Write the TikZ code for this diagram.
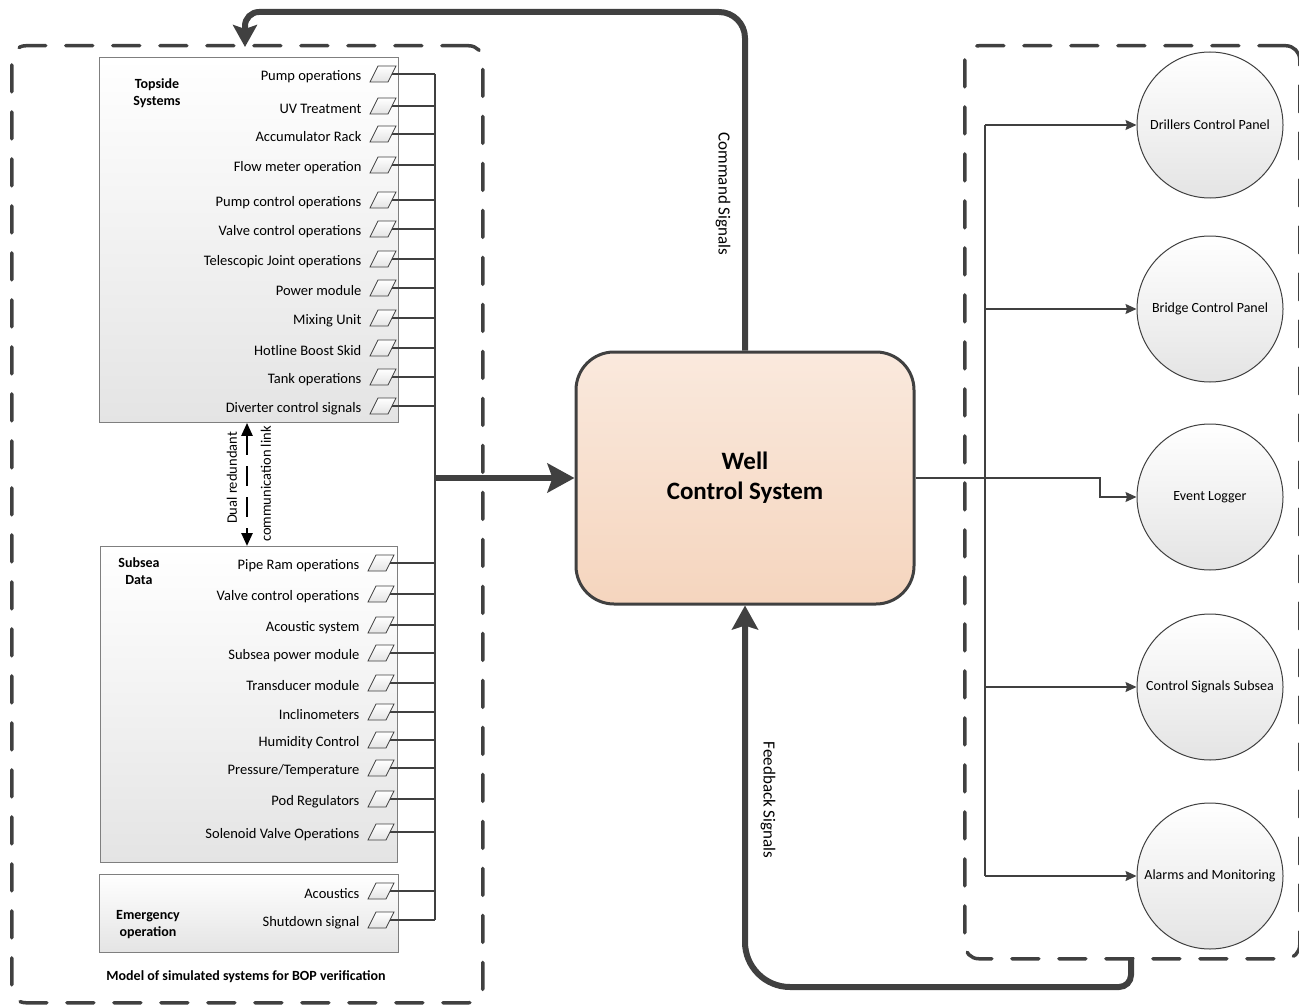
\documentclass[tikz,border=0pt]{standalone}
\usepackage{fontspec}
\setmainfont{Carlito}
\usetikzlibrary{arrows.meta,positioning}
\definecolor{linec}{HTML}{404040}
\definecolor{boxc}{HTML}{7F7F7F}
\definecolor{boxbot}{HTML}{E4E4E4}
\definecolor{wcstop}{HTML}{FAE9DD}
\definecolor{wcsbot}{HTML}{F5D5BE}

\begin{document}
\begin{tikzpicture}[x=1pt, y=-1pt,
    cont/.style={draw=linec, line width=3.5pt, dash pattern=on 27pt off 20pt, line cap=round, rounded corners=14pt, anchor=north west, inner sep=0pt},
    sysbox/.style={draw=boxc, line width=0.9pt, top color=white, bottom color=boxbot, anchor=north west, inner sep=0pt},
    port/.style={draw=linec, line width=0.8pt, xslant=0.5, minimum width=18pt, minimum height=16pt, inner sep=0pt, top color=white, bottom color=boxbot},
    lab/.style={font=\fontsize{14.5}{16}\selectfont, inner sep=0pt},
    plab/.style={lab, yshift=-2.5pt},
    ttl/.style={font=\fontsize{14}{17}\selectfont\bfseries, align=center},
    wire/.style={draw=linec, line width=1.2pt},
    fat/.style={draw=linec, line width=6pt},
    tarr/.style={wire, -{Stealth[length=11pt, width=10pt, inset=1.5pt]}},
    disc/.style={circle, draw=linec, line width=1pt, minimum size=146pt, top color=white, bottom color=boxbot, font=\fontsize{14}{16}\selectfont},
    sig/.style={font=\fontsize{17}{19}\selectfont}]

  \useasboundingbox (0,0) rectangle (1299,1006);

  % ── dashed containers ──
  \node[cont, minimum width=471pt, minimum height=957pt] (simcont) at (10,44) {};
  \node[cont, minimum width=335pt, minimum height=913pt] (outcont) at (963,44) {};

  % ── system boxes ──
  \node[sysbox, minimum width=299pt, minimum height=365pt] (topbox) at (99,57) {};
  \node[sysbox, minimum width=297pt, minimum height=316pt] (subbox) at (100,546) {};
  \node[sysbox, minimum width=299pt, minimum height=78pt]  (emgbox) at (99,874) {};
  \node[ttl] (toptl) at (157,93)  {Topside\\Systems};
  \node[ttl] (subtl) at (139,571) {Subsea\\Data};
  \node[ttl] (emgtl) at (148,925) {Emergency\\operation};
  \node[ttl] (modtl) at (246,977) {Model of simulated systems for BOP verification};

  % ── topside signals ──
  \node[port] (tp1)  at (383,74)  {}; \node[plab, left=12pt of tp1]  (tl1)  {Pump operations};
  \node[port] (tp2)  at (383,106) {}; \node[plab, left=12pt of tp2]  (tl2)  {UV Treatment};
  \node[port] (tp3)  at (383,134) {}; \node[plab, left=12pt of tp3]  (tl3)  {Accumulator Rack};
  \node[port] (tp4)  at (383,165) {}; \node[plab, left=12pt of tp4]  (tl4)  {Flow meter operation};
  \node[port] (tp5)  at (383,200) {}; \node[plab, left=12pt of tp5]  (tl5)  {Pump control operations};
  \node[port] (tp6)  at (383,229) {}; \node[plab, left=12pt of tp6]  (tl6)  {Valve control operations};
  \node[port] (tp7)  at (383,259) {}; \node[plab, left=12pt of tp7]  (tl7)  {Telescopic Joint operations};
  \node[port] (tp8)  at (383,288) {}; \node[plab, left=12pt of tp8]  (tl8)  {Power module};
  \node[port] (tp9)  at (383,318) {}; \node[plab, left=12pt of tp9]  (tl9)  {Mixing Unit};
  \node[port] (tp10) at (383,348) {}; \node[plab, left=12pt of tp10] (tl10) {Hotline Boost Skid};
  \node[port] (tp11) at (383,377) {}; \node[plab, left=12pt of tp11] (tl11) {Tank operations};
  \node[port] (tp12) at (383,406) {}; \node[plab, left=12pt of tp12] (tl12) {Diverter control signals};

  % ── subsea signals ──
  \node[port] (sp1)  at (381,563) {}; \node[plab, left=12pt of sp1]  (sl1)  {Pipe Ram operations};
  \node[port] (sp2)  at (381,594) {}; \node[plab, left=12pt of sp2]  (sl2)  {Valve control operations};
  \node[port] (sp3)  at (381,625) {}; \node[plab, left=12pt of sp3]  (sl3)  {Acoustic system};
  \node[port] (sp4)  at (381,653) {}; \node[plab, left=12pt of sp4]  (sl4)  {Subsea power module};
  \node[port] (sp5)  at (381,683) {}; \node[plab, left=12pt of sp5]  (sl5)  {Transducer module};
  \node[port] (sp6)  at (381,712) {}; \node[plab, left=12pt of sp6]  (sl6)  {Inclinometers};
  \node[port] (sp7)  at (381,740) {}; \node[plab, left=12pt of sp7]  (sl7)  {Humidity Control};
  \node[port] (sp8)  at (381,768) {}; \node[plab, left=12pt of sp8]  (sl8)  {Pressure/Temperature};
  \node[port] (sp9)  at (381,799) {}; \node[plab, left=12pt of sp9]  (sl9)  {Pod Regulators};
  \node[port] (sp10) at (381,832) {}; \node[plab, left=12pt of sp10] (sl10) {Solenoid Valve Operations};

  % ── emergency signals ──
  \node[port] (ep1) at (381,891) {}; \node[plab, left=12pt of ep1] (el1) {Acoustics};
  \node[port] (ep2) at (381,920) {}; \node[plab, left=12pt of ep2] (el2) {Shutdown signal};

  % ── collecting bus ──
  \coordinate (tbus) at (435,0);
  \coordinate (tj) at (435,478);
  \draw[wire] (tp1.east) -- (tp1 -| tbus) (tp2.east) -- (tp2 -| tbus) (tp3.east) -- (tp3 -| tbus)
              (tp4.east) -- (tp4 -| tbus) (tp5.east) -- (tp5 -| tbus) (tp6.east) -- (tp6 -| tbus)
              (tp7.east) -- (tp7 -| tbus) (tp8.east) -- (tp8 -| tbus) (tp9.east) -- (tp9 -| tbus)
              (tp10.east) -- (tp10 -| tbus) (tp11.east) -- (tp11 -| tbus) (tp12.east) -- (tp12 -| tbus);
  \draw[wire] (sp1.east) -- (sp1 -| tbus) (sp2.east) -- (sp2 -| tbus) (sp3.east) -- (sp3 -| tbus)
              (sp4.east) -- (sp4 -| tbus) (sp5.east) -- (sp5 -| tbus) (sp6.east) -- (sp6 -| tbus)
              (sp7.east) -- (sp7 -| tbus) (sp8.east) -- (sp8 -| tbus) (sp9.east) -- (sp9 -| tbus)
              (sp10.east) -- (sp10 -| tbus) (ep1.east) -- (ep1 -| tbus) (ep2.east) -- (ep2 -| tbus);
  \draw[wire] (tp1 -| tbus) -- (tj);
  \draw[wire, line width=2.2pt] (tj) -- (ep2 -| tbus);

  % ── dual redundant link ──
  \coordinate (dlx) at (247,0);
  \draw[black, line width=2.5pt, dash pattern=on 20pt off 11pt,
        {Triangle[length=13pt, width=11pt]}-{Triangle[length=13pt, width=11pt]}]
        (topbox.south -| dlx) -- (subbox.north -| dlx);
  \node[lab, rotate=90] (dual1) at (232,478) {Dual redundant};
  \node[lab, rotate=90] (dual2) at (266,484) {communication link};

  % ── well control system ──
  \node[draw=linec, line width=3pt, rounded corners=38pt, minimum width=338pt, minimum height=252pt,
        top color=wcstop, bottom color=wcsbot, align=center,
        font=\fontsize{25}{30}\selectfont\bfseries] (wcs) at (745,478) {Well\\Control System};
  \draw[fat, -{Stealth[length=27pt, width=29pt, inset=5pt]}] (tj) -- (wcs);

  % ── command and feedback loops ──
  \coordinate (cmdtip) at (245,47);
  \coordinate (fbstart) at (1131,957);
  \draw[fat, rounded corners=26pt, -{Stealth[length=22pt, width=24pt, inset=4pt]}]
        (wcs.north) -- (745,12) [rounded corners=14pt] -- (245,12) -- (cmdtip);
  \draw[fat, rounded corners=12pt, -{Stealth[length=24pt, width=26pt, inset=4pt]}]
        (fbstart) -- (1131,987) [rounded corners=45pt] -- (745,987) -- (wcs.south);
  \node[sig, rotate=-90] (cmdlbl) at (723,194) {Command Signals};
  \node[sig, rotate=-90] (fblbl)  at (768,800) {Feedback Signals};

  % ── outputs ──
  \node[disc] (drill)   at (1210,125) {Drillers Control Panel};
  \node[disc] (bridge)  at (1210,309) {Bridge Control Panel};
  \node[disc] (evlog)   at (1210,497) {Event Logger};
  \node[disc] (ctrlsub) at (1210,687) {Control Signals Subsea};
  \node[disc] (alarm)   at (1210,876) {Alarms and Monitoring};
  \coordinate (rbus) at (985,0);
  \coordinate (evbend) at (1100,478);
  \draw[wire] (drill.west -| rbus) -- (alarm.west -| rbus);
  \draw[tarr] (drill.west -| rbus) -- (drill);
  \draw[tarr] (bridge.west -| rbus) -- (bridge);
  \draw[tarr] (ctrlsub.west -| rbus) -- (ctrlsub);
  \draw[tarr] (alarm.west -| rbus) -- (alarm);
  \draw[tarr] (wcs.east) -- (evbend) |- (evlog);
\end{tikzpicture}
\end{document}
